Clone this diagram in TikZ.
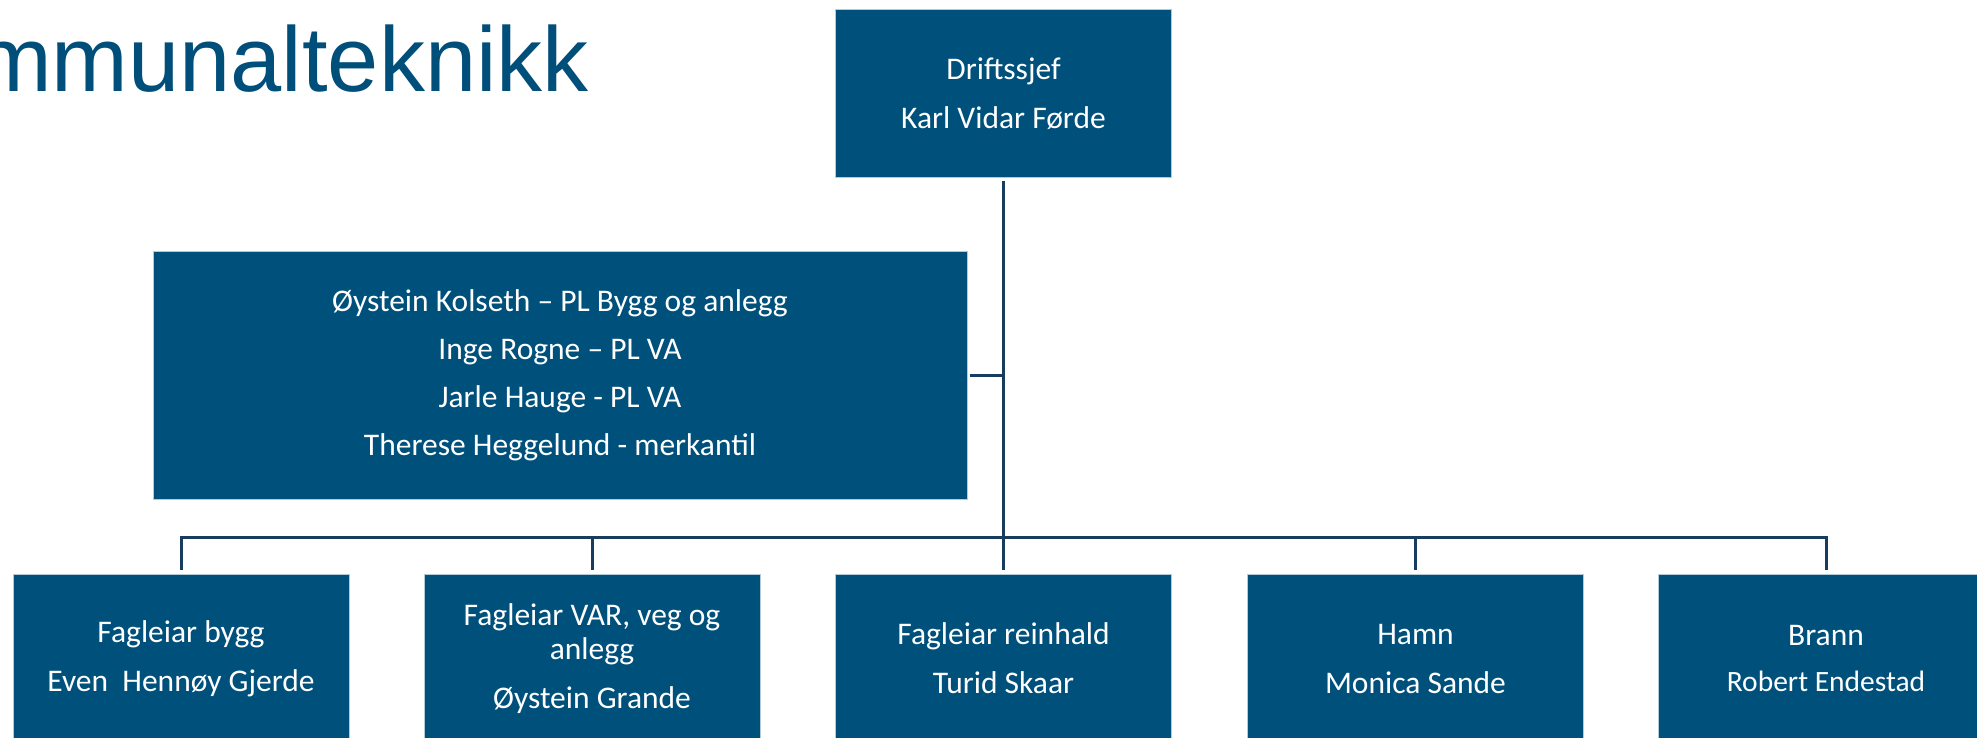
\documentclass[tikz,border=0pt]{standalone}
\usepackage{fontspec}
\setmainfont{Carlito}
\newfontfamily\titlefont{Liberation Sans}
\definecolor{boxblue}{RGB}{0,80,124}
\definecolor{titleblue}{RGB}{0,78,122}
\definecolor{linecol}{RGB}{24,60,94}
\tikzset{
  orgbox/.style={rectangle, fill=boxblue, draw=boxblue!30!white, line width=0.6pt, text=white,
    minimum width=336pt, minimum height=168pt, inner sep=0pt, align=center,
    font=\fontsize{31.5}{34}\selectfont},
  conn/.style={draw=linecol, line width=3pt},
}
\begin{document}
\begin{tikzpicture}[x=1pt,y=1pt]
\useasboundingbox (0,0) rectangle (1977,-737);
\clip (0,0) rectangle (1977,-737);
\node[anchor=base east, inner sep=0pt, text=titleblue, font=\titlefont\fontsize{92}{100}\selectfont] (title) at (589,-91) {Kommunalteknikk};
\node[orgbox] (top) at (1003.5,-93.5) {Driftssjef\\[15pt]Karl Vidar Førde};
\node[orgbox, minimum width=814pt, minimum height=248pt] (mid) at (560,-375) {Øystein Kolseth – PL Bygg og anlegg\\[14pt]Inge Rogne – PL VA\\[14pt]Jarle Hauge - PL VA\\[14pt]Therese Heggelund - merkantil};
\node[orgbox] (b1) at (181,-658.5) {Fagleiar bygg\\[15pt]Even\ \ Hennøy Gjerde};
\node[orgbox] (b2) at (592,-658.5) {Fagleiar VAR, veg og\\anlegg\\[15pt]Øystein Grande};
\node[orgbox] (b3) at (1003.5,-658.5) {Fagleiar reinhald\\[15pt]Turid Skaar};
\node[orgbox] (b4) at (1415.5,-658.5) {Hamn\\[15pt]Monica Sande};
\node[orgbox] (b5) at (1826,-658.5) {Brann\\[12pt]{\fontsize{29.5}{32}\selectfont Robert Endestad}};
\coordinate (bus) at (1003.5,-537);
\draw[conn, shorten <=3pt] (top.south) -- (bus);
\draw[conn, shorten <=3pt] (mid.east) -- (mid.east -| bus);
\foreach \b in {b1,b2,b3,b4,b5} {
  \draw[conn, shorten <=4pt] (\b.north) |- (bus);
}
\end{tikzpicture}
\end{document}
